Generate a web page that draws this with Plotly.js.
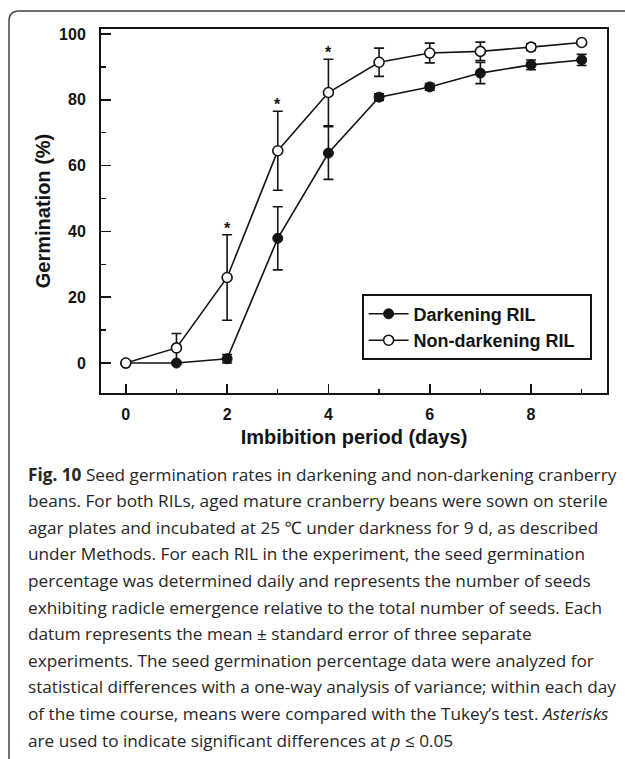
<!DOCTYPE html>
<html>
<head>
<meta charset="utf-8">
<script src="https://cdn.plot.ly/plotly-3.0.1.min.js"></script>
<style>
html,body{margin:0;padding:0;background:#fff;}
#chart{width:625px;height:759px;}
</style>
</head>
<body>
<div id="chart"></div>
<script>
// ---- data ----
const days = [0, 1, 2, 3, 4, 5, 6, 7, 8, 9];
const darkening = [0, 0, 1.3, 37.9, 63.8, 80.8, 83.9, 88.1, 90.6, 92.1];
const darkeningErr = [0, 0, 1.3, 9.6, 8.0, 1.0, 1.0, 3.2, 1.5, 1.7];
const nonDarkening = [0, 4.6, 26.0, 64.5, 82.2, 91.4, 94.2, 94.7, 96.0, 97.4];
const nonDarkeningErr = [0, 4.4, 13.0, 12.0, 10.1, 4.3, 3.0, 2.8, 1.0, 0.6];
const sigDays = [2, 3, 4];
const seriesNames = ['Darkening RIL', 'Non-darkening RIL'];
const xTickVals = [0, 2, 4, 6, 8];
const yTickVals = [0, 20, 40, 60, 80, 100];
const xTitle = 'Imbibition period (days)';
const yTitle = 'Germination (%)';
const captionLines = [
  '<b>Fig. 10</b> Seed germination rates in darkening and non-darkening cranberry',
  'beans. For both RILs, aged mature cranberry beans were sown on sterile',
  'agar plates and incubated at 25 \u2103 under darkness for 9 d, as described',
  'under Methods. For each RIL in the experiment, the seed germination',
  'percentage was determined daily and represents the number of seeds',
  'exhibiting radicle emergence relative to the total number of seeds. Each',
  'datum represents the mean \u00b1 standard error of three separate',
  'experiments. The seed germination percentage data were analyzed for',
  'statistical differences with a one-way analysis of variance; within each day',
  'of the time course, means were compared with the Tukey\u2019s test. <i>Asterisks</i>',
  'are used to indicate significant differences at <i>p</i> \u2264 0.05'
];

// ---- layout geometry ----
const W = 625, H = 759;
const M = {l: 101, r: 18, t: 29, b: 366};
const PW = W - M.l - M.r, PH = H - M.t - M.b;
const px2x = px => (px - M.l) / PW;
const py2y = py => (H - M.b - py) / PH;

const chartFont = 'Liberation Sans, Arial, Helvetica, sans-serif';
const capFont = 'Open Sans, Noto Sans, sans-serif';
const ink = '#141414';
const pad = '\u00a0\u00a0';

const traces = [
  {
    x: days, y: darkening, name: seriesNames[0] + pad, type: 'scatter', mode: 'lines+markers',
    line: {color: ink, width: 1.6},
    marker: {symbol: 'circle', size: 10, color: ink, line: {color: ink, width: 1}},
    error_y: {type: 'data', array: darkeningErr, visible: true, color: ink, thickness: 1.6, width: 5}
  },
  {
    x: days, y: nonDarkening, name: seriesNames[1] + pad, type: 'scatter', mode: 'lines+markers',
    line: {color: ink, width: 1.6},
    marker: {symbol: 'circle', size: 10, color: '#ffffff', line: {color: ink, width: 1.6}},
    error_y: {type: 'data', array: nonDarkeningErr, visible: true, color: ink, thickness: 1.6, width: 5}
  }
];

const annotations = [];
sigDays.forEach(d => {
  const i = days.indexOf(d);
  annotations.push({
    x: d, y: nonDarkening[i] + nonDarkeningErr[i], xref: 'x', yref: 'y',
    text: '*', showarrow: false, yanchor: 'bottom', xanchor: 'center', yshift: -4,
    font: {family: chartFont, size: 16, weight: 'bold', color: ink}
  });
});
const capBase = 480, capStep = 26.6;
captionLines.forEach((t, i) => {
  annotations.push({
    x: px2x(26), y: py2y(capBase + i * capStep - 6), xref: 'paper', yref: 'paper',
    text: t, showarrow: false, xanchor: 'left', yanchor: 'middle', align: 'left',
    font: {family: capFont, size: 17.2, color: '#262626'}
  });
});

const borderPath =
  `M ${px2x(9)},${py2y(770)} L ${px2x(9)},${py2y(21)} Q ${px2x(9)},${py2y(11)} ${px2x(19)},${py2y(11)} L ${px2x(650)},${py2y(11)}`;

const layout = {
  width: W, height: H,
  margin: M,
  paper_bgcolor: '#ffffff', plot_bgcolor: '#ffffff',
  showlegend: true,
  font: {family: chartFont, color: ink},
  xaxis: {
    range: [-0.49, 9.5], tickvals: xTickVals, ticks: 'inside', ticklen: 9, tickwidth: 1.6,
    tickcolor: ink, showline: true, linecolor: ink, linewidth: 2, mirror: true,
    showgrid: false, zeroline: false, ticklabelstandoff: 6,
    tickfont: {family: chartFont, size: 16, weight: 'bold', color: ink},
    minor: {tickvals: [1, 3, 5, 7, 9], ticks: 'inside', ticklen: 4, tickwidth: 1.4, tickcolor: ink, showgrid: false},
    title: {text: xTitle, font: {family: chartFont, size: 20, weight: 'bold', color: ink}, standoff: 8}
  },
  yaxis: {
    range: [-9.1, 101.5], tickvals: yTickVals, ticks: 'inside', ticklen: 10, tickwidth: 1.6,
    tickcolor: ink, showline: true, linecolor: ink, linewidth: 2, mirror: true,
    showgrid: false, zeroline: false, ticklabelstandoff: 10,
    tickfont: {family: chartFont, size: 16, weight: 'bold', color: ink},
    minor: {dtick: 10, ticks: 'inside', ticklen: 5, tickwidth: 1.4, tickcolor: ink, showgrid: false},
    title: {text: yTitle, font: {family: chartFont, size: 20, weight: 'bold', color: ink}, standoff: 3}
  },
  legend: {
    x: px2x(592), y: py2y(360), xanchor: 'right', yanchor: 'bottom',
    bordercolor: ink, borderwidth: 1.6, bgcolor: '#ffffff',
    font: {family: chartFont, size: 18, weight: 'bold', color: ink},
    itemwidth: 40, tracegroupgap: 0
  },
  shapes: [{
    type: 'path', path: borderPath, xref: 'paper', yref: 'paper',
    line: {color: '#444', width: 1.5}, fillcolor: 'rgba(0,0,0,0)'
  }],
  annotations: annotations
};

Plotly.newPlot('chart', traces, layout, {displayModeBar: false, staticPlot: true});
</script>
</body>
</html>
